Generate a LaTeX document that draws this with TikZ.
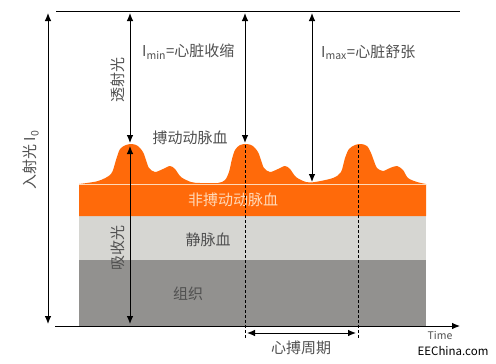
\documentclass[tikz,border=0pt]{standalone}
\usepackage{fontspec}
\setmainfont{Noto Sans CJK SC}
\usetikzlibrary{arrows.meta, positioning}
\definecolor{naranja}{HTML}{FF6A0A}
\definecolor{durazno}{HTML}{FFD9B8}
\definecolor{grisclaro}{HTML}{D6D6D2}
\definecolor{grisoscuro}{HTML}{92918F}
\definecolor{texto}{HTML}{505050}
\tikzset{
  etiqueta/.style={text=texto, font=\fontsize{15}{15}\selectfont, inner sep=0pt},
  flecha/.style={<->, line width=0.9pt},
  guia/.style={densely dashed, line width=0.6pt},
}

\begin{document}
\begin{tikzpicture}[x=1pt, y=-1pt, >={Latex[length=8pt,width=6.5pt]}]
				\useasboundingbox (0,0) rectangle (496,364);
				% Capas
				\fill[grisoscuro] (79,260) rectangle (426,326);
				\fill[grisclaro] (79,216) rectangle (426,260);
				\fill[naranja] plot[smooth, tension=0.5] coordinates {
					(79,184) (98,181) (111,174) (116,160) (120,149) (126,145) (132,144) (138,146)
					(143,152) (146,160) (149,168) (155,172) (163,169) (170,166) (175,169) (181,177)
					(191,182) (200,183) (218,183) (225,180) (229,172) (232,159) (235,150) (240,145)
					(247,144) (253,146) (258,152) (261,160) (264,168) (270,172) (278,169) (285,166)
					(290,169) (296,177) (306,182) (315,182) (333,178) (341,172) (345,158) (349,149)
					(355,145) (361,144) (367,146) (371,153) (374,161) (377,168) (383,171) (390,168)
					(397,166) (403,170) (408,178) (417,182) (426,184)}
					-- (426,216) -- (79,216) -- cycle;
				\draw[durazno, line width=0.8pt] (79,184) -- (426,184);
				% Coordenadas
				\coordinate (arribaL) at (56,11);
				\coordinate (arribaR) at (460,11);
				\coordinate (ejeL) at (55,326);
				\coordinate (ejeR) at (460,326);
				\coordinate (i0a) at (48,13);
				\coordinate (i0b) at (48,324);
				\coordinate (ta) at (130,13);
				\coordinate (tb) at (130,143);
				\coordinate (aa) at (130,146);
				\coordinate (ab) at (130,324);
				\coordinate (mina) at (245,13);
				\coordinate (minb) at (245,143);
				\coordinate (maxa) at (312,13);
				\coordinate (maxb) at (312,182);
				\coordinate (p1a) at (245,145);
				\coordinate (p1b) at (245,338);
				\coordinate (p2a) at (358,145);
				\coordinate (p2b) at (358,338);
				\coordinate (cica) at (247,333);
				\coordinate (cicb) at (356,333);
				% Textos
				\node[etiqueta, rotate=90] (incidente) at (31,160) {入射光 I\textsubscript{0}};
				\node[etiqueta, rotate=90] (transmitida) at (118,80) {透射光};
				\node[etiqueta, anchor=west] (imin) at (142,52) {I\textsubscript{min}=心脏收缩};
				\node[etiqueta, anchor=west] (imax) at (321,52) {I\textsubscript{max}=心脏舒张};
				\node[etiqueta] (pulsatil) at (190,138) {搏动动脉血};
				\node[etiqueta, text=durazno] (nopulsatil) at (233,200) {非搏动动脉血};
				\node[etiqueta] (venosa) at (208,240) {静脉血};
				\node[etiqueta, rotate=90] (absorbida) at (118,248) {吸收光};
				\node[etiqueta] (tejido) at (188,294) {组织};
				\node[etiqueta] (ciclo) at (301,348) {心搏周期};
				\node[text=texto, font=\fontsize{10.5}{10.5}\selectfont, inner sep=0pt] (tiempo) at (440,335) {Time};
				\node[font=\fontsize{11.5}{11.5}\selectfont, inner sep=0pt] (marca) at (453,351) {EEChina.com};
				% Flechas
				\draw[line width=0.9pt] (arribaL) -- (arribaR);
				\draw[->, line width=0.9pt] (ejeL) -- (ejeR);
				\draw[flecha] (i0a) -- (i0b);
				\draw[flecha] (ta) -- (tb);
				\draw[flecha] (aa) -- (ab);
				\draw[flecha] (mina) -- (minb);
				\draw[flecha] (maxa) -- (maxb);
				\draw[guia] (p1a) -- (p1b);
				\draw[guia] (p2a) -- (p2b);
				\draw[flecha] (cica) -- (cicb);
			\end{tikzpicture}
\end{document}
